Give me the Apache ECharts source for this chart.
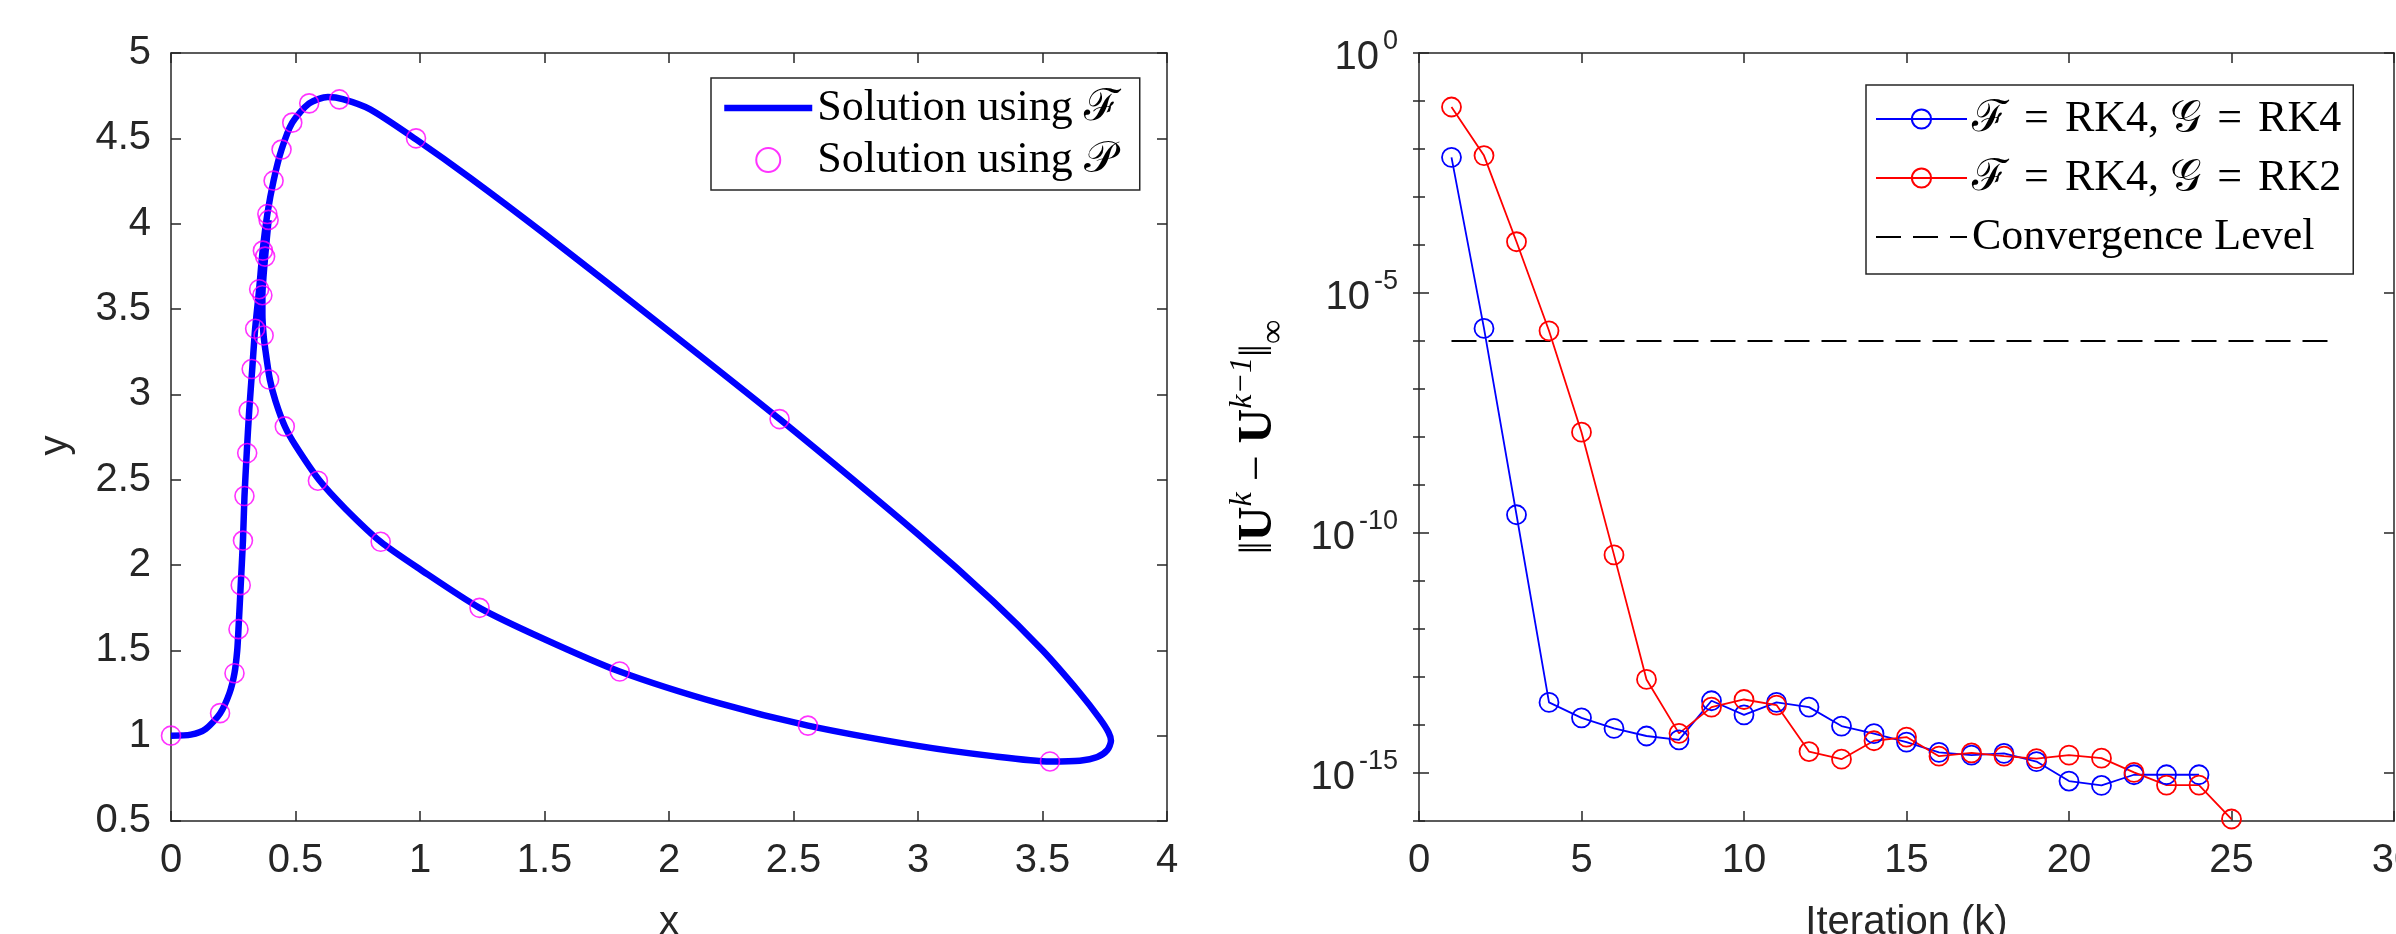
<!DOCTYPE html>
<html><head><meta charset="utf-8">
<script src="https://cdn.jsdelivr.net/npm/echarts@6/dist/echarts.min.js"></script>
<style>html,body{margin:0;padding:0;background:#fff}#c{width:2396px;height:934px}</style>
</head><body><div id="c"></div>
<script>
// ---- Left panel: trajectory (x, y) ----
const fX = [0, 0.08, 0.14, 0.197, 0.235, 0.255, 0.266, 0.271, 0.280, 0.289, 0.295, 0.304, 0.314, 0.326, 0.338, 0.354, 0.368, 0.387, 0.412, 0.444, 0.487, 0.555, 0.63, 0.69, 0.8, 0.984, 1.2, 1.5, 2.0, 2.444, 3.0, 3.3, 3.5, 3.65, 3.73, 3.765, 3.775, 3.76, 3.72, 3.65, 3.53, 3.3, 3.0, 2.558, 2.2, 1.802, 1.5, 1.239, 1.0, 0.842, 0.7, 0.596, 0.5, 0.458, 0.42, 0.397, 0.38, 0.372, 0.367, 0.367, 0.372, 0.378, 0.392];
const fY = [1.0, 1.006, 1.04, 1.13, 1.25, 1.366, 1.5, 1.624, 1.882, 2.143, 2.40, 2.653, 2.904, 3.144, 3.385, 3.615, 3.84, 4.057, 4.252, 4.434, 4.592, 4.705, 4.742, 4.73, 4.67, 4.494, 4.27, 3.94, 3.37, 2.855, 2.18, 1.79, 1.5, 1.25, 1.10, 1.02, 0.97, 0.915, 0.875, 0.853, 0.849, 0.88, 0.94, 1.059, 1.19, 1.376, 1.565, 1.749, 1.975, 2.136, 2.33, 2.496, 2.70, 2.81, 2.96, 3.087, 3.25, 3.345, 3.47, 3.581, 3.70, 3.807, 4.022];
const pX = [0, 0.197, 0.255, 0.271, 0.280, 0.289, 0.295, 0.306, 0.312, 0.324, 0.338, 0.354, 0.369, 0.387, 0.412, 0.444, 0.487, 0.555, 0.676, 0.984, 2.444, 3.530, 2.558, 1.802, 1.239, 0.842, 0.590, 0.457, 0.394, 0.372, 0.367, 0.378, 0.392];
const pY = [1.0, 1.132, 1.366, 1.624, 1.882, 2.143, 2.404, 2.656, 2.904, 3.148, 3.384, 3.616, 3.842, 4.057, 4.252, 4.434, 4.592, 4.705, 4.728, 4.5, 2.855, 0.849, 1.059, 1.376, 1.749, 2.136, 2.494, 2.812, 3.087, 3.345, 3.581, 3.807, 4.022];

// ---- Right panel: convergence history ----
const iterBlue = [1,2,3,4,5,6,7,8,9,10,11,12,13,14,15,16,17,18,19,20,21,22,23,24];
const errBlue = [6.7e-3, 1.83e-6, 2.4e-10, 2.96e-14, 1.41e-14, 8.5e-15, 5.9e-15, 4.9e-15, 3.2e-14, 1.63e-14, 2.96e-14, 2.36e-14, 9.5e-15, 6.6e-15, 4.4e-15, 2.7e-15, 2.35e-15, 2.56e-15, 1.73e-15, 6.8e-16, 5.5e-16, 9.2e-16, 9.2e-16, 9.2e-16];
const iterRed = [1,2,3,4,5,6,7,8,9,10,11,12,13,14,15,16,17,18,19,20,21,22,23,24,25];
const errRed = [7.5e-2, 7.3e-3, 1.17e-4, 1.63e-6, 1.26e-8, 3.5e-11, 8.9e-14, 6.7e-15, 2.36e-14, 3.4e-14, 2.6e-14, 2.8e-15, 1.94e-15, 4.7e-15, 5.6e-15, 2.24e-15, 2.63e-15, 2.24e-15, 2.0e-15, 2.35e-15, 2.04e-15, 1.03e-15, 5.6e-16, 5.6e-16, 1.1e-16];
const convIter = [1, 28];
const convLevel = [1e-6, 1e-6];

// tick values
const logMajorTicks = [1e-15, 1e-10, 1e-5, 1];
const logMinorTicks = [1e-16,1e-15,1e-14,1e-13,1e-12,1e-11,1e-10,1e-9,1e-8,1e-7,1e-6,1e-5,1e-4,1e-3,1e-2,1e-1,1];

const nameF = 'Solution using ℱ';
const nameP = 'Solution using 𝒫';
const nameB = 'ℱ = RK4, 𝒢 = RK4';
const nameR = 'ℱ = RK4, 𝒢 = RK2';
const nameC = 'Convergence Level';

const zip = (a, b) => a.map((v, i) => [v, b[i]]);
const AX = '#262626';
const SANS = 'Liberation Sans, Arial, sans-serif';
const SERIF = 'Liberation Serif, Times New Roman, serif';
const axLine = {show: true, onZero: false, lineStyle: {color: AX, width: 1.5}};
const tick = (len) => ({show: true, inside: true, length: len, lineStyle: {color: AX, width: 1.5}});
const lbl = {color: AX, fontSize: 40, fontFamily: SANS, margin: 20};

const chart = echarts.init(document.getElementById('c'), null, {renderer: 'canvas'});
const logLabelRich = {
  b: {fontSize: 40, fontFamily: SANS, color: AX, lineHeight: 50, verticalAlign: 'bottom'},
  e: {fontSize: 27, fontFamily: SANS, color: AX, lineHeight: 27, verticalAlign: 'top', padding: [0, 0, 0, 4]}
};
const legText = {fontFamily: SERIF, fontSize: 44, color: '#000', lineHeight: 44,
  rich: {q: {fontFamily: SERIF, fontSize: 44, color: '#000', lineHeight: 44, width: 57, align: 'center'}}};

chart.setOption({
  backgroundColor: '#fff',
  animation: false,
  grid: [
    {left: 171, top: 53, width: 996, height: 768, containLabel: false, outerBoundsMode: 'none'},
    {left: 1419, top: 53, width: 975, height: 768, containLabel: false, outerBoundsMode: 'none'}
  ],
  legend: [
    {
      data: [{name: nameF, itemStyle: {opacity: 0}, lineStyle: {width: 6.5}}, {name: nameP}],
      orient: 'vertical', left: 711, top: 78,
      itemWidth: 88, itemHeight: 24, itemGap: 8, padding: [8, 20, 8, 10],
      borderColor: AX, borderWidth: 1.5, backgroundColor: '#fff', selectedMode: false,
      textStyle: legText
    },
    {
      data: [nameB, nameR, {name: nameC, itemStyle: {opacity: 0}}],
      orient: 'vertical', left: 1866, top: 85,
      itemWidth: 91, itemHeight: 24, itemGap: 15, padding: [12, 12, 15, 9],
      borderColor: AX, borderWidth: 1.5, backgroundColor: '#fff', selectedMode: false,
      formatter: n => n.replace(/ = /g, '{q|=}'),
      textStyle: legText
    }
  ],
  xAxis: [
    {gridIndex: 0, type: 'value', min: 0, max: 4, interval: 0.5, position: 'bottom',
     axisLine: axLine, axisTick: tick(10), splitLine: {show: false}, axisLabel: lbl,
     name: 'x', nameLocation: 'middle', nameGap: 82,
     nameTextStyle: {color: AX, fontSize: 40, fontFamily: SANS}},
    {gridIndex: 0, type: 'value', min: 0, max: 4, interval: 0.5, position: 'top',
     axisLine: axLine, axisTick: tick(10), splitLine: {show: false}, axisLabel: {show: false}},
    {gridIndex: 1, type: 'value', min: 0, max: 30, interval: 5, position: 'bottom',
     axisLine: axLine, axisTick: tick(10), splitLine: {show: false}, axisLabel: lbl,
     name: 'Iteration (k)', nameLocation: 'middle', nameGap: 82,
     nameTextStyle: {color: AX, fontSize: 40, fontFamily: SANS}},
    {gridIndex: 1, type: 'value', min: 0, max: 30, interval: 5, position: 'top',
     axisLine: axLine, axisTick: tick(10), splitLine: {show: false}, axisLabel: {show: false}}
  ],
  yAxis: [
    {gridIndex: 0, type: 'value', min: 0.5, max: 5, interval: 0.5, position: 'left',
     axisLine: axLine, axisTick: tick(10), splitLine: {show: false}, axisLabel: lbl,
     name: 'y', nameLocation: 'middle', nameGap: 95, nameRotate: 90,
     nameTextStyle: {color: AX, fontSize: 40, fontFamily: SANS, padding: [0, 17, 0, 0]}},
    {gridIndex: 0, type: 'value', min: 0.5, max: 5, interval: 0.5, position: 'right',
     axisLine: axLine, axisTick: tick(10), splitLine: {show: false}, axisLabel: {show: false}},
    {gridIndex: 1, type: 'log', logBase: 10, min: 1e-16, max: 1, position: 'left',
     axisLine: axLine, axisTick: Object.assign(tick(10), {customValues: logMajorTicks}),
     splitLine: {show: false},
     axisLabel: {customValues: logMajorTicks, margin: 21,
       formatter: v => '{b|10}{e|' + Math.round(Math.log10(v)) + '}', rich: logLabelRich},
     name: '{n|‖}{u|U}{s|k}{n| − }{u|U}{s|k−1}{n|‖}{i|∞}', nameLocation: 'middle', nameGap: 128, nameRotate: 90,
     nameTextStyle: {rich: {
       n: {fontFamily: SERIF, fontSize: 46, color: '#000', lineHeight: 64},
       u: {fontFamily: SERIF, fontSize: 48, fontWeight: 'bold', color: '#000', lineHeight: 64},
       s: {fontFamily: SERIF, fontSize: 32, fontStyle: 'italic', color: '#000', verticalAlign: 'top', lineHeight: 30},
       i: {fontFamily: SERIF, fontSize: 34, color: '#000', verticalAlign: 'bottom', lineHeight: 30}
     }}},
    {gridIndex: 1, type: 'log', logBase: 10, min: 1e-16, max: 1, position: 'left',
     axisLine: {show: false}, axisTick: Object.assign(tick(6), {customValues: logMinorTicks}),
     splitLine: {show: false}, axisLabel: {show: false}},
    {gridIndex: 1, type: 'log', logBase: 10, min: 1e-16, max: 1, position: 'right',
     axisLine: axLine, axisTick: Object.assign(tick(10), {customValues: logMajorTicks}),
     splitLine: {show: false}, axisLabel: {show: false}},
    {gridIndex: 1, type: 'log', logBase: 10, min: 1e-16, max: 1, position: 'right',
     axisLine: {show: false}, axisTick: Object.assign(tick(6), {customValues: logMinorTicks}),
     splitLine: {show: false}, axisLabel: {show: false}}
  ],
  series: [
    {name: nameF, type: 'line', xAxisIndex: 0, yAxisIndex: 0, data: zip(fX, fY),
     symbol: 'none', smooth: 0.25, lineStyle: {color: '#0000ff', width: 6.5}, itemStyle: {color: '#0000ff'}, z: 2},
    {name: nameP, type: 'scatter', xAxisIndex: 0, yAxisIndex: 0, data: zip(pX, pY),
     symbol: 'circle', symbolSize: 19,
     itemStyle: {color: 'rgba(0,0,0,0)', borderColor: '#ff00ff', borderWidth: 1.6}, z: 3},
    {name: nameB, type: 'line', xAxisIndex: 2, yAxisIndex: 2, data: zip(iterBlue, errBlue),
     symbol: 'circle', symbolSize: 19, showSymbol: true,
     lineStyle: {color: '#0000ff', width: 1.8},
     itemStyle: {color: 'rgba(0,0,0,0)', borderColor: '#0000ff', borderWidth: 1.8}, z: 3},
    {name: nameR, type: 'line', xAxisIndex: 2, yAxisIndex: 2, data: zip(iterRed, errRed),
     symbol: 'circle', symbolSize: 19, showSymbol: true,
     lineStyle: {color: '#ff0000', width: 1.8},
     itemStyle: {color: 'rgba(0,0,0,0)', borderColor: '#ff0000', borderWidth: 1.8}, z: 3},
    {name: nameC, type: 'line', xAxisIndex: 2, yAxisIndex: 2, data: zip(convIter, convLevel),
     symbol: 'none', lineStyle: {color: '#000', width: 1.8, type: [25, 12]}, itemStyle: {color: '#000'}, z: 2}
  ]
});
</script>
</body></html>
